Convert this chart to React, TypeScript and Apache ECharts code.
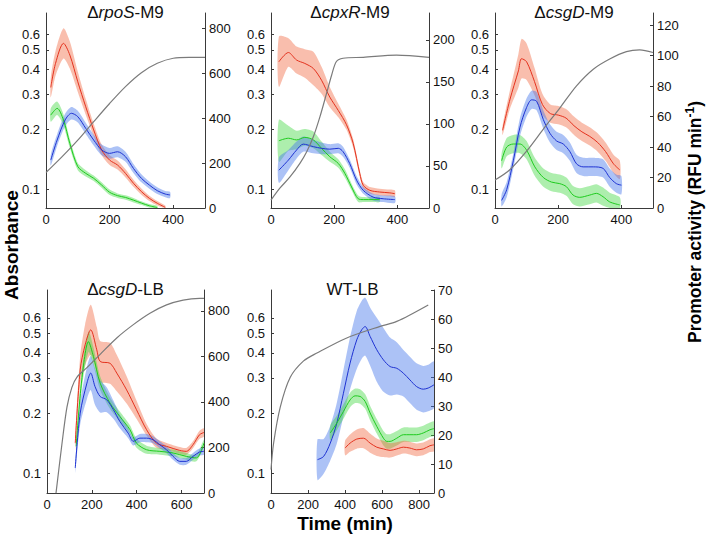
import React, { useEffect, useRef } from 'react';
import * as echarts from 'echarts';

// ---------- Panel 1: ΔrpoS-M9 ----------
const p1RedT = [15, 30, 55, 75, 100, 125, 150, 175, 200, 225, 250, 275, 300, 325, 350, 375];
const p1Red = [536, 643, 732, 680, 561, 450, 347, 258, 213, 191, 154, 110, 73, 43, 21, 3];
const p1RedW = [44, 55, 67, 60, 45, 35, 28, 24, 22, 20, 18, 16, 14, 12, 10, 8];
const p1GreenT = [15, 35, 55, 75, 100, 125, 150, 175, 200, 225, 250, 275, 300, 325, 350];
const p1Green = [413, 443, 391, 287, 184, 154, 132, 102, 70, 55, 47, 35, 22, 10, 2];
const p1GreenW = [30, 30, 25, 20, 16, 14, 12, 12, 12, 10, 10, 10, 8, 8, 8];
const p1BlueT = [15, 35, 60, 80, 100, 125, 150, 175, 200, 225, 250, 275, 300, 325, 350, 375, 390];
const p1Blue = [213, 302, 391, 421, 406, 354, 302, 258, 243, 250, 228, 176, 132, 102, 77, 62, 58];
const p1BlueW = [24, 26, 28, 28, 26, 25, 24, 24, 24, 24, 22, 20, 18, 16, 15, 14, 14];
const p1GrayT = [0, 50, 100, 150, 200, 250, 300, 350, 400, 450, 500];
const p1Gray = [0.121, 0.145, 0.176, 0.218, 0.269, 0.327, 0.384, 0.428, 0.454, 0.458, 0.458];

// ---------- Panel 2: ΔcpxR-M9 ----------
const p2RedT = [25, 55, 81, 107, 134, 160, 186, 213, 239, 260, 281, 292, 313, 344, 376, 392];
const p2Red = [174, 185, 176, 172, 166, 152, 132, 116, 99, 77, 41, 27, 21, 19, 18, 17];
const p2RedW = [30, 17, 16, 17, 20, 16, 12, 8, 6, 5, 4, 4, 4, 4, 4, 4];
const p2GreenT = [25, 55, 81, 107, 134, 160, 186, 213, 234, 255, 276, 292, 323, 344];
const p2Green = [80, 83, 81, 84, 81, 71, 61, 53, 41, 25, 11, 10, 10, 10];
const p2GreenW = [25, 15, 11, 10, 10, 8, 6, 5, 5, 4, 4, 3, 3, 3];
const p2BlueT = [25, 55, 81, 102, 134, 160, 186, 213, 228, 249, 271, 292, 323, 355, 392];
const p2Blue = [45, 57, 69, 76, 73, 71, 70, 71, 67, 53, 33, 21, 13, 11, 10];
const p2BlueW = [15, 12, 10, 9, 8, 7, 6, 6, 6, 5, 5, 4, 4, 4, 4];
const p2GrayT = [0, 28, 60, 92, 113, 134, 155, 176, 192, 207, 228, 292, 397, 500];
const p2Gray = [0.088, 0.101, 0.115, 0.135, 0.154, 0.183, 0.231, 0.303, 0.374, 0.437, 0.454, 0.459, 0.471, 0.459];

// ---------- Panel 3: ΔcsgD-M9 ----------
const p3RedT = [24, 47, 74, 84, 100, 125, 150, 175, 200, 225, 250, 275, 300, 325, 350, 375, 395];
const p3Red = [51, 71, 90, 98, 96, 83, 68, 62, 61, 59, 54, 50, 47, 43, 37, 29, 25];
const p3RedW = [3, 6, 11, 13, 12, 9, 7, 6, 6, 6, 6, 6, 6, 6, 6, 6, 6];
const p3GreenT = [21, 37, 58, 79, 100, 126, 153, 179, 205, 226, 247, 268, 300, 321, 342, 363, 395];
const p3Green = [31, 40, 42, 42, 38, 27, 20, 17, 16, 14, 8.5, 7, 8.5, 9.6, 7.4, 4, 2];
const p3GreenW = [5, 6, 6, 6, 6, 6, 6, 6, 6, 6, 6, 6, 6, 6, 6, 6, 5];
const p3BlueT = [21, 37, 58, 79, 100, 116, 132, 153, 174, 195, 216, 237, 258, 279, 311, 342, 363, 384, 400];
const p3Blue = [5, 12, 31, 53, 66, 71, 70, 58, 49, 44, 42, 37, 29, 27, 27, 26, 20, 16, 15];
const p3BlueW = [4, 5, 5, 6, 6, 6, 6, 6, 6, 6, 6, 6, 6, 6, 6, 6, 6, 6, 6];
const p3GrayT = [0, 47, 100, 153, 205, 258, 311, 363, 416, 458, 500];
const p3Gray = [0.111, 0.125, 0.155, 0.2, 0.255, 0.33, 0.4, 0.45, 0.49, 0.5, 0.485];

// ---------- Panel 4: ΔcsgD-LB ----------
const p4RedT = [126, 148, 170, 195, 222, 237, 281, 311, 355, 399, 444, 488, 533, 592, 621, 651, 680, 700];
const p4Red = [219, 541, 651, 717, 629, 578, 570, 527, 453, 366, 278, 219, 205, 187, 183, 212, 256, 266];
const p4RedW = [30, 60, 90, 110, 100, 90, 90, 80, 60, 40, 25, 20, 15, 15, 15, 15, 18, 18];
const p4GreenT = [130, 155, 185, 207, 237, 281, 325, 370, 399, 444, 503, 562, 621, 666, 700];
const p4Green = [205, 497, 665, 600, 483, 395, 336, 278, 219, 190, 183, 176, 161, 154, 220];
const p4GreenW = [20, 40, 45, 40, 30, 25, 22, 20, 20, 18, 15, 15, 15, 15, 15];
const p4BlueT = [126, 148, 178, 195, 214, 237, 266, 296, 325, 362, 385, 414, 444, 473, 503, 533, 562, 592, 621, 651, 680, 700];
const p4Blue = [110, 351, 483, 527, 468, 424, 410, 366, 314, 263, 227, 241, 241, 234, 212, 190, 161, 139, 139, 161, 180, 183];
const p4BlueW = [20, 50, 70, 75, 80, 70, 55, 40, 30, 22, 18, 18, 18, 15, 15, 15, 15, 15, 15, 15, 15, 15];
const p4GrayT = [40, 67, 89, 111, 133, 178, 237, 311, 385, 459, 533, 607, 680, 700];
const p4Gray = [0.079, 0.141, 0.214, 0.269, 0.302, 0.338, 0.394, 0.476, 0.555, 0.633, 0.697, 0.737, 0.751, 0.751];

// ---------- Panel 5: WT-LB ----------
const p5RedT = [400, 427, 463, 499, 535, 571, 607, 643, 679, 715, 750, 786, 822, 858, 880];
const p5Red = [15.5, 17.2, 18.6, 18.9, 17.2, 15.8, 15.2, 14.7, 15.2, 15.8, 15.5, 14.9, 15.2, 16.3, 16.6];
const p5RedW = [2.5, 3, 3.3, 3.5, 3.3, 3, 2.8, 2.5, 2.3, 2.2, 2.2, 2.2, 2.2, 2.2, 2.2];
const p5GreenT = [320, 355, 391, 427, 454, 481, 508, 535, 571, 607, 625, 643, 679, 715, 750, 786, 822, 858, 880];
const p5Green = [20.7, 24.1, 28.1, 32.1, 33.5, 33.3, 31.6, 27.6, 23, 18.9, 17.8, 17.8, 18.9, 20.1, 20.1, 20.1, 20.7, 21.8, 22.2];
const p5GreenW = [2.5, 2.5, 2.5, 2.5, 2.5, 2.5, 2.5, 2.5, 2.5, 2.5, 2.5, 2.5, 2.5, 2.5, 2.5, 2.5, 2.5, 2.5, 2.5];
const p5BlueT = [251, 284, 320, 355, 391, 427, 463, 490, 508, 535, 571, 607, 643, 679, 715, 750, 786, 822, 849, 880];
const p5Blue = [11.5, 12.6, 17.2, 24, 34.4, 44.8, 52.8, 56.3, 57.4, 54, 49.4, 45.9, 43.6, 43, 41.3, 39, 36.7, 35.8, 36.2, 37.3];
const p5BlueW = [7, 6, 6, 7, 8, 9, 10, 10, 10, 10, 11, 11, 10, 9, 8, 8, 8, 8, 8, 8];
const p5GrayT = [0, 14, 50, 104, 176, 248, 409, 589, 679, 849];
const p5Gray = [0.104, 0.141, 0.214, 0.302, 0.365, 0.4, 0.476, 0.544, 0.576, 0.697];

// ---------- Titles & ticks ----------
const titles = [
  ['Δ', 'rpoS', '-M9'],
  ['Δ', 'cpxR', '-M9'],
  ['Δ', 'csgD', '-M9'],
  ['Δ', 'csgD', '-LB'],
  ['', '', 'WT-LB'],
];
const absTicks = [0.1, 0.2, 0.3, 0.4, 0.5, 0.6];
const xTicksM9 = [0, 200, 400];
const xTicksCsgLB = [0, 200, 400, 600];
const xTicksWT = [0, 200, 400, 600, 800];
const rTicks1 = [0, 200, 400, 600, 800];
const rTicks2 = [0, 50, 100, 150, 200];
const rTicks3 = [0, 20, 40, 60, 80, 100, 120];
const rTicks4 = [0, 200, 400, 600, 800];
const rTicks5 = [0, 10, 20, 30, 40, 50, 60, 70];

const FONT = 'Liberation Sans, Arial, Helvetica, sans-serif';
const RED = '#e4321e';
const GREEN = '#1ecb1e';
const BLUE = '#1e32d2';
const RED_BAND = 'rgba(240,100,60,0.42)';
const GREEN_BAND = 'rgba(60,215,60,0.42)';
const BLUE_BAND = 'rgba(70,120,235,0.45)';

type Curve = { t: number[]; v: number[]; w: number[]; line: string; band: string };

const panels = [
  {
    layout: { left: 46, top: 13, width: 159, height: 195 }, xMax: 500, logMin: 0.0803, logMax: 0.766, rMax: 867,
    xTicks: xTicksM9, rTicks: rTicks1, grayT: p1GrayT, gray: p1Gray,
    curves: [
      { t: p1RedT, v: p1Red, w: p1RedW, line: RED, band: RED_BAND },
      { t: p1GreenT, v: p1Green, w: p1GreenW, line: GREEN, band: GREEN_BAND },
      { t: p1BlueT, v: p1Blue, w: p1BlueW, line: BLUE, band: BLUE_BAND },
    ] as Curve[],
  },
  {
    layout: { left: 271, top: 13, width: 158, height: 195 }, xMax: 500, logMin: 0.0803, logMax: 0.766, rMax: 232,
    xTicks: xTicksM9, rTicks: rTicks2, grayT: p2GrayT, gray: p2Gray,
    curves: [
      { t: p2RedT, v: p2Red, w: p2RedW, line: RED, band: RED_BAND },
      { t: p2GreenT, v: p2Green, w: p2GreenW, line: GREEN, band: GREEN_BAND },
      { t: p2BlueT, v: p2Blue, w: p2BlueW, line: BLUE, band: BLUE_BAND },
    ] as Curve[],
  },
  {
    layout: { left: 495, top: 13, width: 158, height: 195 }, xMax: 500, logMin: 0.0803, logMax: 0.766, rMax: 128,
    xTicks: xTicksM9, rTicks: rTicks3, grayT: p3GrayT, gray: p3Gray,
    curves: [
      { t: p3RedT, v: p3Red, w: p3RedW, line: RED, band: RED_BAND },
      { t: p3GreenT, v: p3Green, w: p3GreenW, line: GREEN, band: GREEN_BAND },
      { t: p3BlueT, v: p3Blue, w: p3BlueW, line: BLUE, band: BLUE_BAND },
    ] as Curve[],
  },
  {
    layout: { left: 47, top: 290, width: 157, height: 203 }, xMax: 700, logMin: 0.0794, logMax: 0.828, rMax: 892,
    xTicks: xTicksCsgLB, rTicks: rTicks4, grayT: p4GrayT, gray: p4Gray,
    curves: [
      { t: p4RedT, v: p4Red, w: p4RedW, line: RED, band: RED_BAND },
      { t: p4GreenT, v: p4Green, w: p4GreenW, line: GREEN, band: GREEN_BAND },
      { t: p4BlueT, v: p4Blue, w: p4BlueW, line: BLUE, band: BLUE_BAND },
    ] as Curve[],
  },
  {
    layout: { left: 271, top: 290, width: 163, height: 203 }, xMax: 880, logMin: 0.0794, logMax: 0.828, rMax: 70,
    xTicks: xTicksWT, rTicks: rTicks5, grayT: p5GrayT, gray: p5Gray,
    curves: [
      { t: p5BlueT, v: p5Blue, w: p5BlueW, line: BLUE, band: BLUE_BAND },
      { t: p5GreenT, v: p5Green, w: p5GreenW, line: GREEN, band: GREEN_BAND },
      { t: p5RedT, v: p5Red, w: p5RedW, line: RED, band: RED_BAND },
    ] as Curve[],
  },
];

const AXIS_COLOR = '#3a3a3a';
const LABEL_COLOR = '#111';

function buildOption() {
  const grid: any[] = [];
  const xAxis: any[] = [];
  const yAxis: any[] = [];
  const series: any[] = [];
  const graphic: any[] = [];

  panels.forEach((p, i) => {
    grid.push({ ...p.layout, containLabel: false });
    xAxis.push({
      type: 'value', gridIndex: i, min: 0, max: p.xMax,
      axisLine: { show: true, onZero: false, lineStyle: { color: AXIS_COLOR, width: 1 } },
      axisTick: { show: true, inside: true, length: 3, customValues: p.xTicks, lineStyle: { color: AXIS_COLOR } },
      axisLabel: { customValues: p.xTicks, margin: 5, fontSize: 13, fontFamily: FONT, color: LABEL_COLOR },
      splitLine: { show: false },
    });
    yAxis.push({
      type: 'log', gridIndex: i, min: p.logMin, max: p.logMax, logBase: 10, position: 'left',
      axisLine: { show: true, lineStyle: { color: AXIS_COLOR, width: 1 } },
      axisTick: { show: true, inside: true, length: 3, customValues: absTicks, lineStyle: { color: AXIS_COLOR } },
      axisLabel: {
        customValues: absTicks, margin: 6, fontSize: 13, fontFamily: FONT, color: LABEL_COLOR,
        formatter: (v: number) => String(Math.round(v * 10) / 10),
      },
      splitLine: { show: false }, minorTick: { show: false },
    });
    yAxis.push({
      type: 'value', gridIndex: i, min: 0, max: p.rMax, position: 'right',
      axisLine: { show: true, lineStyle: { color: AXIS_COLOR, width: 1 } },
      axisTick: { show: true, inside: true, length: 3, customValues: p.rTicks, lineStyle: { color: AXIS_COLOR } },
      axisLabel: { customValues: p.rTicks, margin: 4, fontSize: 13, fontFamily: FONT, color: LABEL_COLOR },
      splitLine: { show: false },
    });

    const rIdx = 2 * i + 1;
    p.curves.forEach((c) => {
      series.push({
        type: 'custom', xAxisIndex: i, yAxisIndex: rIdx, clip: true, silent: true, z: 1,
        data: [[c.t[0], c.v[0]]],
        renderItem: (_params: any, api: any) => {
          const top = c.t.map((x, k) => api.coord([x, Math.min(p.rMax, c.v[k] + c.w[k])]));
          const bot = c.t.map((x, k) => api.coord([x, Math.max(0, c.v[k] - c.w[k])])).reverse();
          return {
            type: 'polygon',
            shape: { points: top.concat(bot), smooth: 0.25 },
            style: { fill: c.band, stroke: null },
          };
        },
      });
    });
    p.curves.forEach((c) => {
      series.push({
        type: 'line', xAxisIndex: i, yAxisIndex: rIdx, z: 3, showSymbol: false, symbol: 'none',
        smooth: 0.3, clip: true,
        data: c.t.map((x, k) => [x, c.v[k]]),
        lineStyle: { color: c.line, width: 1 },
      });
    });
    series.push({
      type: 'line', xAxisIndex: i, yAxisIndex: 2 * i, z: 4, showSymbol: false, symbol: 'none',
      smooth: 0.3, clip: true,
      data: p.grayT.map((x, k) => [x, p.gray[k]]),
      lineStyle: { color: '#7b7b7b', width: 1.2 },
    });

    const tt = titles[i];
    const cx = p.layout.left + p.layout.width / 2;
    graphic.push({
      type: 'text', x: cx, y: p.layout.top - 1,
      style: {
        text: (tt[0] ? `{n|${tt[0]}}` : '') + (tt[1] ? `{i|${tt[1]}}` : '') + `{n|${tt[2]}}`,
        align: 'center', verticalAlign: 'middle', textAlign: 'center', textVerticalAlign: 'middle',
        rich: {
          n: { fontSize: 17, fontFamily: FONT, fill: '#111', color: '#111' },
          i: { fontSize: 17, fontFamily: FONT, fontStyle: 'italic', fill: '#111', color: '#111' },
        },
      },
      z: 10,
    });
  });

  graphic.push({
    type: 'text', x: 11, y: 245, rotation: Math.PI / 2,
    style: {
      text: 'Absorbance', font: `bold 19px ${FONT}`, fill: '#000',
      align: 'center', verticalAlign: 'middle', textAlign: 'center', textVerticalAlign: 'middle',
    },
  });
  graphic.push({
    type: 'text', x: 345, y: 523,
    style: {
      text: 'Time (min)', font: `bold 19px ${FONT}`, fill: '#000',
      align: 'center', verticalAlign: 'middle', textAlign: 'center', textVerticalAlign: 'middle',
    },
  });
  graphic.push({
    type: 'text', x: 695, y: 222, rotation: Math.PI / 2,
    style: {
      text: '{a|Promoter activity (RFU min}{s|-1}{a|)}',
      align: 'center', verticalAlign: 'middle', textAlign: 'center', textVerticalAlign: 'middle',
      rich: {
        a: { fontSize: 17.5, fontWeight: 'bold', fontFamily: FONT, fill: '#000', lineHeight: 22 },
        s: { fontSize: 12, fontWeight: 'bold', fontFamily: FONT, fill: '#000', verticalAlign: 'top', lineHeight: 22 },
      },
    },
  });

  return { animation: false, backgroundColor: '#fff', grid, xAxis, yAxis, series, graphic };
}

export default function App() {
  const ref = useRef<HTMLDivElement>(null);
  useEffect(() => {
    if (!ref.current) return;
    const chart = echarts.init(ref.current, undefined, { renderer: 'svg' });
    chart.setOption(buildOption() as any);
    return () => chart.dispose();
  }, []);
  return (
    <div
      ref={ref}
      style={{ position: 'fixed', left: 0, top: 0, width: 706, height: 536, background: '#fff' }}
    />
  );
}
